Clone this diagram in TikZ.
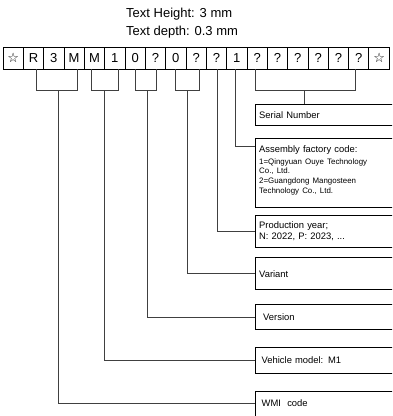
\documentclass[tikz,border=0pt]{standalone}
\usepackage{fontspec}
\setmainfont{Liberation Sans}
\newfontfamily\starfont{DejaVu Sans}
\newcommand\vstar{{\starfont ☆}}
\usetikzlibrary{positioning}

\begin{document}
\begin{tikzpicture}[x=1pt,y=-1pt,
	cell/.style={draw,line width=0.9pt,minimum width=20.33pt,minimum height=22pt,inner sep=0pt,font=\fontsize{13}{13}\selectfont},
	infobox/.style={draw,line width=1pt,anchor=north west,inner xsep=4pt,inner ysep=0pt,align=left,text width=140pt,font=\fontsize{9.4}{11.5}\selectfont},
	conn/.style={draw=black!75,line width=0.9pt}]
		\path [use as bounding box,clip] (0,0) rectangle (392,416);
		\node [align=left,anchor=west,font=\fontsize{13}{17.7}\selectfont](title) at (122.7,23) {Text Height: 3 mm\\Text depth: 0.3 mm};
		\foreach \ch [count=\i from 0] in {\vstar,R,3,M,M,1,0,?,0,?,?,1,?,?,?,?,?,?,\vstar}
			\node [cell](c\i) at ({3+20.33*(\i+0.5)},58) {\ch};
		\node [infobox,minimum height=20.7pt](ser) at (254.7,104.3) {Serial Number};
		\node [infobox,minimum height=69pt](fac) at (254.7,138) {\parbox[c][62pt][t]{140pt}{\vspace*{3.5pt}Assembly factory code:\\[2pt]
			\fontsize{7.9}{9.7}\selectfont 1=Qingyuan Ouye Technology\\Co., Ltd.\\2=Guangdong Mangosteen\\Technology Co., Ltd.}};
		\node [infobox,minimum height=31.7pt](prod) at (254.7,215) {Production year;\\N: 2022, P: 2023, ...};
		\node [infobox,minimum height=32pt](var) at (254.7,257.3) {Variant};
		\node [infobox,minimum height=25.3pt](ver) at (254.7,304) {\hspace*{4pt}Version};
		\node [infobox,minimum height=25.4pt](veh) at (254.7,347.3) {\hspace*{2.5pt}Vehicle model: M1};
		\node [infobox,minimum height=24.8pt](wmi) at (254.7,390.7) {\hspace*{2.5pt}WMI~ code};
		% brackets under the cells
		\draw [conn] ([xshift=3.2pt]c1.south) -- ++(0,21) -| ([xshift=3.6pt]c3.south);
		\draw [conn] ([xshift=-3.4pt]c4.south) -- ++(0,21) -| ([xshift=3.6pt]c5.south);
		\draw [conn] ([xshift=0.7pt]c6.south) -- ++(0,21) -| ([xshift=1.4pt]c7.south);
		\draw [conn] ([xshift=-0.6pt]c8.south) -- ++(0,21) -| ([xshift=3.1pt]c9.south);
		\draw [conn] ([xshift=-2pt]c12.south) -- ++(0,21) -| ([xshift=-3pt]c17.south);
		\coordinate (bwmi) at (58.3,90);
		\coordinate (bveh) at (104.3,90);
		\coordinate (bver) at (147.3,90);
		\coordinate (bvar) at (187.7,90);
		\coordinate (bser) at (304.3,90);
		% leaders to the boxes
		\draw [conn] (bwmi) |- (wmi.west);
		\draw [conn] (bveh) |- (veh.west);
		\draw [conn] (bver) |- (ver.west);
		\draw [conn] (bvar) |- (var.west);
		\draw [conn] ([xshift=0.5pt]c10.south) |- (prod.west);
		\draw [conn] ([xshift=-1.2pt]c11.south) |- ([yshift=-8.7pt]fac.north west);
		\draw [conn] (bser) -- (bser |- ser.north);
\end{tikzpicture}
\end{document}
